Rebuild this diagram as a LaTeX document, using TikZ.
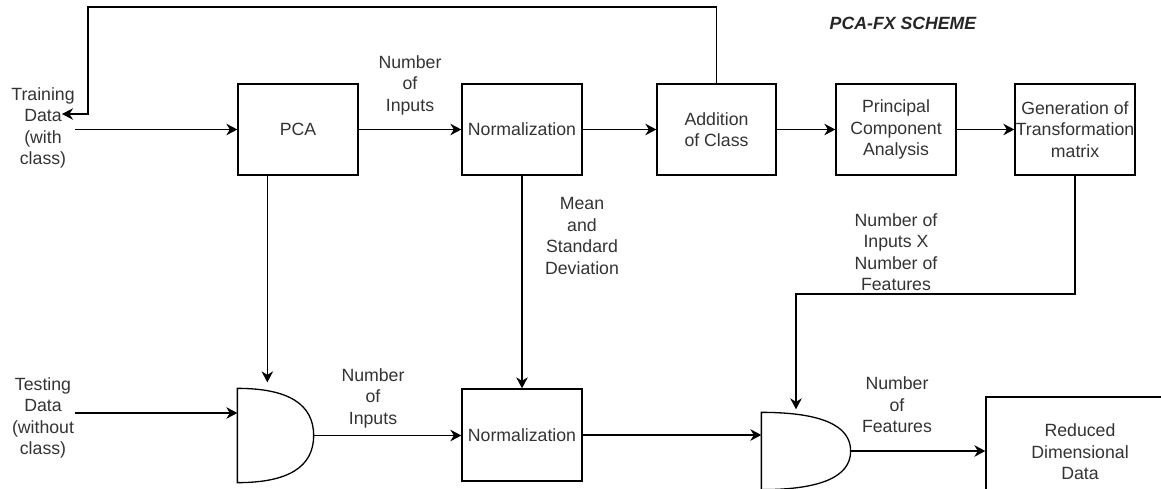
\documentclass[tikz,border=0pt]{standalone}
\usepackage{fontspec}
\setmainfont{Liberation Sans}
\usetikzlibrary{arrows.meta,calc}
\definecolor{labelgray}{RGB}{51,51,51}
\newcommand\andgate[1]{%
  \draw (#1.north west)
    .. controls ($(#1.north west)!2/3!(#1.north east)$) and ($(#1.east)!2/3!(#1.north east)$) .. (#1.east)
    .. controls ($(#1.east)!2/3!(#1.south east)$) and ($(#1.south west)!2/3!(#1.south east)$) .. (#1.south west)
    -- cycle;}
\begin{document}
\begin{tikzpicture}[x=1pt,y=-1pt,
  line width=1.3pt,
  every node/.style={font=\fontsize{17.7}{21.5}\selectfont, text=labelgray, inner sep=0pt, align=center},
  blockbox/.style={draw=black, minimum width=120pt, minimum height=91pt},
  flow/.style={-{Stealth[length=11pt,width=11.5pt,inset=3.5pt]}},
]
\useasboundingbox (0,0) rectangle (1161,488);

% processing blocks, training path
\node[blockbox] (pca)   at (298,129.5) {PCA};
\node[blockbox] (norm1) at (522,129.5) {Normalization};
\node[blockbox, minimum width=119pt] (addc) at (716.5,129.5) {Addition\\of Class};
\node[blockbox] (pcaa)  at (896,129.5) {Principal\\Component\\Analysis};
\node[blockbox] (gen)   at (1075,129.5) {Generation of\\Transformation\\matrix};

% testing path
\node[blockbox, minimum height=92pt] (norm2) at (522,435) {Normalization};
\node[draw=black, minimum width=188pt, minimum height=110pt] (red) at (1080,452) {Reduced\\Dimensional\\Data};

% AND gates
\node[minimum width=75pt, minimum height=93pt] (g1) at (275.5,435.5) {};
\node[minimum width=88pt, minimum height=76pt] (g2) at (806,451) {};
\andgate{g1}
\andgate{g2}

% inputs and labels
\node (train) at (43,128) {Training\\Data\\(with\\class)};
\node (test)  at (43,418) {Testing\\Data\\(without\\class)};
\node (lblin1) at (410,85)  {Number\\of\\Inputs};
\node (lblin2) at (373,398) {Number\\of\\Inputs};
\node (lblms)  at (582,236) {Mean\\and\\Standard\\Deviation};
\node (lblnf)  at (896,252) {Number of\\Inputs X\\Number of\\Features};
\node (lblf)   at (897,405) {Number\\of\\Features};
\node[font=\fontsize{17.7}{21.5}\selectfont\bfseries\itshape, text=black!85] (title) at (903,23) {PCA-FX SCHEME};

% routing points
\coordinate (loopTop) at (88,7);
\coordinate (trainIn) at (62,114);
\coordinate (turn) at (796,294);
\coordinate (g1in) at ([yshift=22.5pt]g1.west);

% connectors, top row
\draw[flow] (pca.west -| train.east) -- (pca.west);
\draw[flow] (pca.east) -- (norm1.west);
\draw[flow] (norm1.east) -- (addc.west);
\draw[flow] (addc.east) -- (pcaa.west);
\draw[flow] (pcaa.east) -- (gen.west);
\draw[flow] (addc.north) |- (loopTop) |- (trainIn);

% connectors, bottom row
\draw[flow, shorten >=6pt] ([xshift=30pt]pca.south west) -- ([xshift=30pt]pca.south west |- g1.north);
\draw[flow] (test.east |- g1in) -- (g1in);
\draw[flow] (g1.east) -- (g1.east -| norm2.west);
\draw[flow] (norm1.south) -- (norm2.north);
\draw[flow] (norm2.east) -- (norm2.east -| g2.west);
\draw[flow, shorten >=3pt] (gen.south) |- (turn) -- (turn |- g2.north);
\draw[flow] (g2.east) -- (g2.east -| red.west);
\end{tikzpicture}
\end{document}
